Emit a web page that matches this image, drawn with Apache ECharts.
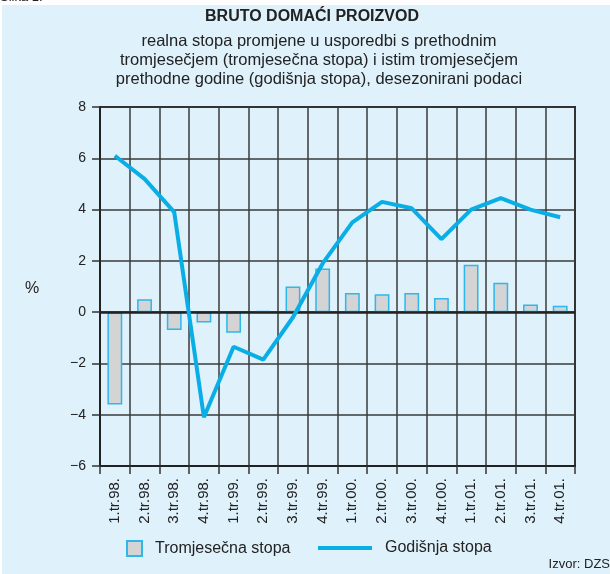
<!DOCTYPE html>
<html>
<head>
<meta charset="utf-8">
<script src="https://cdn.jsdelivr.net/npm/echarts@6/dist/echarts.min.js"></script>
<style>
  html, body { margin: 0; padding: 0; background: #ffffff; }
  #chart { width: 610px; height: 574px; }
</style>
</head>
<body>
<div id="chart"></div>
<script>
// kvartali
const categories = ['1.tr.98.', '2.tr.98.', '3.tr.98.', '4.tr.98.', '1.tr.99.', '2.tr.99.', '3.tr.99.', '4.tr.99.',
  '1.tr.00.', '2.tr.00.', '3.tr.00.', '4.tr.00.', '1.tr.01.', '2.tr.01.', '3.tr.01.', '4.tr.01.']
// tromjesečna stopa (stupci)
const quarterlyRate = [-3.6, 0.5, -0.7, -0.4, -0.8, 0.05, 1.0, 1.7, 0.75, 0.7, 0.75, 0.55, 1.85, 1.15, 0.3, 0.25]
// godišnja stopa (linija)
const annualRate = [6.1, 5.2, 3.9, -4.1, -1.35, -1.85, -0.2, 1.9, 3.5, 4.3, 4.05, 2.85, 4.0, 4.45, 4.0, 3.7]
const yTicks = [-6, -4, -2, 0, 2, 4, 6, 8]

const font = 'Liberation Sans, Arial, sans-serif'
const myChart = echarts.init(document.getElementById('chart'))

const option = {
  backgroundColor: '#ffffff',
  animation: false,
  textStyle: { fontFamily: font, color: '#222' },
  graphic: [
    // svijetloplava pozadina
    { type: 'rect', x: 2, y: 5, shape: { width: 608, height: 569 }, style: { fill: '#dff1fb' }, z: -10 },
    { type: 'text', x: 0, y: -9, style: { text: 'Slika 1.', font: '13px ' + font, fill: '#222' } },
    { type: 'text', x: 312, y: 9, style: { text: 'BRUTO DOMAĆI PROIZVOD', font: 'bold 16px ' + font, fill: '#222', align: 'center' } },
    {
      type: 'text', x: 319, y: 32,
      style: {
        text: 'realna stopa promjene u usporedbi s prethodnim\ntromjesečjem (tromjesečna stopa) i istim tromjesečjem\nprethodne godine (godišnja stopa), desezonirani podaci',
        font: '16.5px ' + font, fill: '#222', align: 'center', lineHeight: 19
      }
    },
    { type: 'text', x: 25, y: 281, style: { text: '%', font: '16px ' + font, fill: '#222' } },
    { type: 'text', x: 610, y: 558, style: { text: 'Izvor: DZS', font: '13px ' + font, fill: '#222', align: 'right' } }
  ],
  grid: {
    left: 100,
    right: 35,
    top: 107,
    bottom: 108,
    show: true,
    borderColor: '#222',
    borderWidth: 2
  },
  legend: [
    {
      data: ['Tromjesečna stopa'],
      left: 121,
      top: 535,
      icon: 'rect',
      itemWidth: 15,
      itemHeight: 15,
      textStyle: { fontFamily: font, fontSize: 16, color: '#222', padding: [0, 0, 0, 8] }
    },
    {
      data: ['Godišnja stopa'],
      left: 313,
      top: 535,
      icon: 'rect',
      itemWidth: 54,
      itemHeight: 4,
      textStyle: { fontFamily: font, fontSize: 16, color: '#222', padding: [0, 0, 0, 8] }
    }
  ],
  xAxis: {
    type: 'category',
    data: categories,
    boundaryGap: true,
    axisLine: { onZero: false, lineStyle: { color: '#222', width: 2 } },
    axisTick: { show: true, length: 8, lineStyle: { color: '#333', width: 1.5 } },
    splitLine: { show: true, lineStyle: { color: '#3a3a3a', width: 1.5 } },
    axisLabel: { rotate: 90, margin: 12, fontSize: 15, color: '#222', fontFamily: font }
  },
  yAxis: {
    type: 'value',
    min: -6,
    max: 8,
    interval: 2,
    axisLine: { show: true, lineStyle: { color: '#222', width: 2 } },
    axisTick: { show: true, length: 8, lineStyle: { color: '#333', width: 1.5 } },
    splitLine: { show: true, lineStyle: { color: '#3a3a3a', width: 1.5 } },
    axisLabel: {
      margin: 14,
      fontSize: 14,
      color: '#222',
      fontFamily: font,
      formatter: (v) => (yTicks.includes(v) ? String(v).replace('-', '\u2212') : '')
    }
  },
  series: [
    {
      name: 'Tromjesečna stopa',
      type: 'bar',
      data: quarterlyRate,
      barWidth: '50%',
      itemStyle: { color: '#d4d4d4', borderColor: '#2fb6ea', borderWidth: 1.5 },
      markLine: {
        silent: true,
        symbol: 'none',
        label: { show: false },
        lineStyle: { color: '#222', width: 2.5, type: 'solid' },
        data: [{ yAxis: 0 }]
      }
    },
    {
      name: 'Godišnja stopa',
      type: 'line',
      data: annualRate,
      showSymbol: false,
      symbol: 'none',
      itemStyle: { color: '#0aaee6' },
      lineStyle: { color: '#0aaee6', width: 4 },
      z: 5
    }
  ]
}

myChart.setOption(option)
</script>
</body>
</html>
